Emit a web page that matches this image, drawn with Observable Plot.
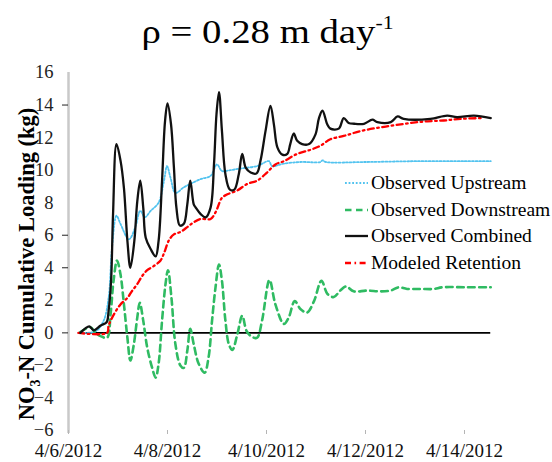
<!DOCTYPE html>
<html>
<head>
<meta charset="utf-8">
<script src="https://cdn.jsdelivr.net/npm/d3@7"></script>
<script src="https://cdn.jsdelivr.net/npm/@observablehq/plot@0.6"></script>
<style>
  body { margin: 0; background: #fff; width: 552px; height: 462px; overflow: hidden; position: relative;
         font-family: "Liberation Serif", "Times New Roman", serif; color: #000; }
  #title { position: absolute; left: 0; top: 15px; width: 536px; text-align: center; white-space: nowrap; }
  #title span { display: inline-block; font-size: 34px; line-height: 34px; transform: scaleX(1.14); }
  #title sup { font-size: 19px; line-height: 0; vertical-align: baseline; position: relative; top: -14px; }
  #ylabel { position: absolute; left: 27px; top: 264px; transform: translate(-50%, -50%) rotate(-90deg);
            white-space: nowrap; font-weight: bold; font-size: 22.5px; line-height: 24px; }
  #ylabel sub { font-size: 14px; line-height: 0; }
  #chart { position: absolute; left: 0; top: 60px; }
  #legend { position: absolute; left: 345px; top: 170px; font-size: 19.5px; }
  #legend .row { height: 26.5px; line-height: 26.5px; white-space: nowrap; display: flex; align-items: center; }
  #legend svg { display: block; margin-right: 2px; }
</style>
</head>
<body>
<div id="title"><span>ρ = 0.28 m day<sup>-1</sup></span></div>
<div id="chart"></div>
<div id="ylabel">NO<sub>3</sub>-N Cumulative Loading (kg)</div>
<div id="legend"></div>
<script>
// Days elapsed since 4/6/2012 00:00 and cumulative NO3-N load (kg) for each series.
const upstreamDays = [0.24, 0.55, 0.71, 0.81, 0.88, 0.97, 1.05, 1.22, 1.35, 1.45, 1.54, 1.66, 1.82, 1.93, 1.99,
  2.06, 2.16, 2.33, 2.46, 2.67, 2.87, 3.00, 3.10, 3.27, 3.47, 3.81, 4.05, 4.11, 4.35, 4.69, 5.09, 5.13, 5.20,
  6.00, 7.00, 8.00, 8.53];
const upstreamKg = [0, 0.1, 0.75, 2.15, 5.25, 7.2, 6.7, 5.75, 6.5, 7.5, 7.1, 7.5, 8.0, 9.35, 10.25,
  9.55, 8.6, 8.95, 9.15, 9.45, 9.65, 10.35, 9.95, 10.0, 10.1, 10.25, 10.55, 10.25, 10.4, 10.5, 10.5, 10.6, 10.5,
  10.5, 10.55, 10.55, 10.55];

const downstreamDays = [0.24, 0.44, 0.55, 0.65, 0.78, 0.85, 0.91, 0.98, 1.05, 1.12, 1.19, 1.25, 1.32, 1.39, 1.44,
  1.51, 1.59, 1.69, 1.76, 1.82, 1.89, 1.96, 2.01, 2.08, 2.16, 2.26, 2.33, 2.40, 2.46, 2.53, 2.63, 2.75, 2.83,
  2.90, 2.97, 3.04, 3.10, 3.17, 3.24, 3.31, 3.41, 3.51, 3.60, 3.71, 3.81, 3.91, 4.06, 4.18, 4.35, 4.45, 4.57,
  4.69, 4.82, 4.96, 5.11, 5.23, 5.36, 5.49, 5.61, 5.76, 6.03, 6.30, 6.51, 6.67, 6.84, 7.11, 7.38, 7.55, 8.05, 8.53];
const downstreamKg = [0.05, 0.35, 0.0, -0.2, -0.3, 1.15, 3.2, 4.45, 3.6, 1.75, -0.3, -1.7, -0.7, 0.95, 1.85,
  0.75, -0.9, -2.15, -2.75, -1.9, 0.75, 3.0, 3.85, 2.15, -0.7, -2.0, -2.15, -1.1, 0.25, -0.7, -1.9, -2.45, -1.5,
  0.75, 2.8, 4.2, 3.2, 0.75, -0.7, -1.05, -0.1, 1.05, 0.1, -0.25, -0.3, 0.75, 3.25, 1.75, 0.55, 0.95, 1.95,
  1.45, 1.25, 1.95, 3.2, 2.4, 2.2, 2.6, 2.85, 2.55, 2.6, 2.55, 2.6, 2.8, 2.7, 2.7, 2.7, 2.8, 2.8, 2.8];

const combinedDays = [0.24, 0.42, 0.51, 0.65, 0.77, 0.81, 0.86, 0.90, 0.97, 1.05, 1.12, 1.19, 1.25, 1.33, 1.39,
  1.45, 1.51, 1.56, 1.66, 1.76, 1.82, 1.89, 1.95, 2.00, 2.07, 2.13, 2.18, 2.25, 2.33, 2.40, 2.46, 2.53, 2.57,
  2.67, 2.77, 2.87, 2.94, 2.99, 3.04, 3.10, 3.17, 3.26, 3.35, 3.44, 3.51, 3.58, 3.68, 3.80, 3.88, 3.98, 4.08,
  4.15, 4.22, 4.32, 4.42, 4.48, 4.55, 4.62, 4.72, 4.86, 4.99, 5.06, 5.13, 5.23, 5.29, 5.46, 5.56, 5.66, 5.77,
  5.97, 6.14, 6.24, 6.51, 6.65, 6.77, 7.31, 7.65, 7.85, 8.19, 8.53];
const combinedKg = [0.0, 0.4, 0.15, 0.45, 0.65, 1.35, 3.2, 7.3, 11.6, 10.6, 8.9, 5.65, 4.0, 5.65, 8.1,
  9.35, 7.7, 5.85, 5.15, 4.7, 5.65, 9.35, 13.0, 14.1, 12.85, 10.15, 7.7, 6.6, 6.7, 7.9, 9.35, 7.9, 7.7,
  7.3, 7.1, 7.7, 10.4, 13.45, 14.8, 12.4, 9.75, 8.8, 8.8, 9.75, 11.0, 10.15, 9.85, 9.8, 10.6, 12.4, 13.95,
  12.8, 11.4, 10.95, 11.0, 11.6, 12.25, 11.8, 11.6, 11.6, 12.2, 13.2, 13.65, 12.8, 12.55, 12.55, 13.2, 12.9, 12.85,
  12.85, 13.1, 12.95, 12.95, 13.3, 13.15, 13.15, 13.35, 13.25, 13.35, 13.2];

const modeledDays = [0.20, 0.78, 0.81, 0.92, 1.05, 1.19, 1.29, 1.39, 1.49, 1.59, 1.72, 1.86, 1.93, 2.03, 2.13,
  2.26, 2.40, 2.53, 2.67, 2.87, 2.97, 3.10, 3.20, 3.41, 3.61, 3.81, 4.01, 4.18, 4.35, 4.62, 4.89, 5.09, 5.29,
  5.56, 5.90, 6.24, 6.57, 6.91, 7.25, 7.58, 7.92, 8.36];
const modeledKg = [0, 0, 0.45, 1.15, 1.75, 2.15, 2.6, 3.0, 3.5, 3.85, 4.1, 4.45, 4.9, 5.7, 6.05,
  6.2, 6.5, 6.8, 7.0, 7.0, 7.4, 8.3, 8.5, 8.75, 9.15, 9.35, 9.85, 10.35, 10.55, 11.0, 11.25, 11.5, 11.9,
  12.1, 12.4, 12.6, 12.75, 12.9, 13.0, 13.05, 13.15, 13.2];

const xTickDates = ["2012-04-06", "2012-04-08", "2012-04-10", "2012-04-12", "2012-04-14"];
const yTickValues = [-6, -4, -2, 0, 2, 4, 6, 8, 10, 12, 14, 16];
const yTickMarks = [14, 6, 4, 0];

const seriesNames = ["Observed Upstream", "Observed Downstream", "Observed Combined", "Modeled Retention"];
const seriesColors = ["#52c3ef", "#2fbb62", "#111111", "#ff0000"];

const start = new Date(2012, 3, 6);
const toDate = d => new Date(start.getTime() + d * 864e5);
const rows = (days, kg) => days.map((d, i) => ({t: toDate(d), v: kg[i]}));
const parseDay = d3.timeParse("%Y-%m-%d");
const fmtDay = d3.timeFormat("%-m/%-d/%Y");

const upstream = rows(upstreamDays, upstreamKg);
const downstream = rows(downstreamDays, downstreamKg);
const combined = rows(combinedDays, combinedKg);
const modeled = rows(modeledDays, modeledKg);

const styles = [
  {strokeWidth: 1.8, strokeDasharray: "1.8 1.8"},
  {strokeWidth: 2.6, strokeDasharray: "6.5 4.5"},
  {strokeWidth: 2.3},
  {strokeWidth: 2.3, strokeDasharray: "6 3.5 1.6 3.5"}
];

const chart = Plot.plot({
  width: 552,
  height: 402,
  marginLeft: 68,
  marginRight: 38.5,
  marginTop: 12,
  marginBottom: 32,
  style: {fontFamily: '"Liberation Serif", "Times New Roman", serif', background: "transparent", color: "#111"},
  x: {type: "time", domain: [toDate(0), toDate(9)]},
  y: {domain: [-6, 16]},
  marks: [
    Plot.ruleX([toDate(0)], {stroke: "#c9c9c9", strokeWidth: 2.5, insetBottom: -3}),
    Plot.axisX({ticks: xTickDates.map(parseDay), tickFormat: fmtDay, tickSize: 4, tickPadding: 8.5,
      fontSize: 19, stroke: "#b5b5b5", fill: "#111", label: null}),
    Plot.axisY({ticks: yTickValues, tickSize: 0, tickPadding: 15, fontSize: 18.5, fill: "#222", label: null}),
    Plot.axisY({ticks: yTickMarks, tickSize: 6, tickFormat: () => "", stroke: "#222", label: null}),
    Plot.ruleY([0], {x1: toDate(combinedDays[0] - 0.04), x2: toDate(combinedDays[combinedDays.length - 1]),
      stroke: "#000", strokeWidth: 1.6}),
    Plot.line(upstream, {x: "t", y: "v", stroke: seriesColors[0], curve: "catmull-rom", ...styles[0]}),
    Plot.line(downstream, {x: "t", y: "v", stroke: seriesColors[1], curve: "catmull-rom", ...styles[1]}),
    Plot.line(modeled, {x: "t", y: "v", stroke: seriesColors[3], curve: "catmull-rom", ...styles[3]}),
    Plot.line(combined, {x: "t", y: "v", stroke: seriesColors[2], curve: "catmull-rom", ...styles[2]})
  ]
});
document.getElementById("chart").append(chart);

// Legend: short line sample followed by the series name.
const legend = d3.select("#legend");
seriesNames.forEach((name, i) => {
  const row = legend.append("div").attr("class", "row");
  const svg = row.append("svg").attr("width", 24).attr("height", 26);
  svg.append("line").attr("x1", 0).attr("x2", 23).attr("y1", 13).attr("y2", 13)
    .attr("stroke", seriesColors[i])
    .attr("stroke-width", styles[i].strokeWidth)
    .attr("stroke-dasharray", styles[i].strokeDasharray || null);
  row.append("span").text(name);
});
</script>
</body>
</html>
